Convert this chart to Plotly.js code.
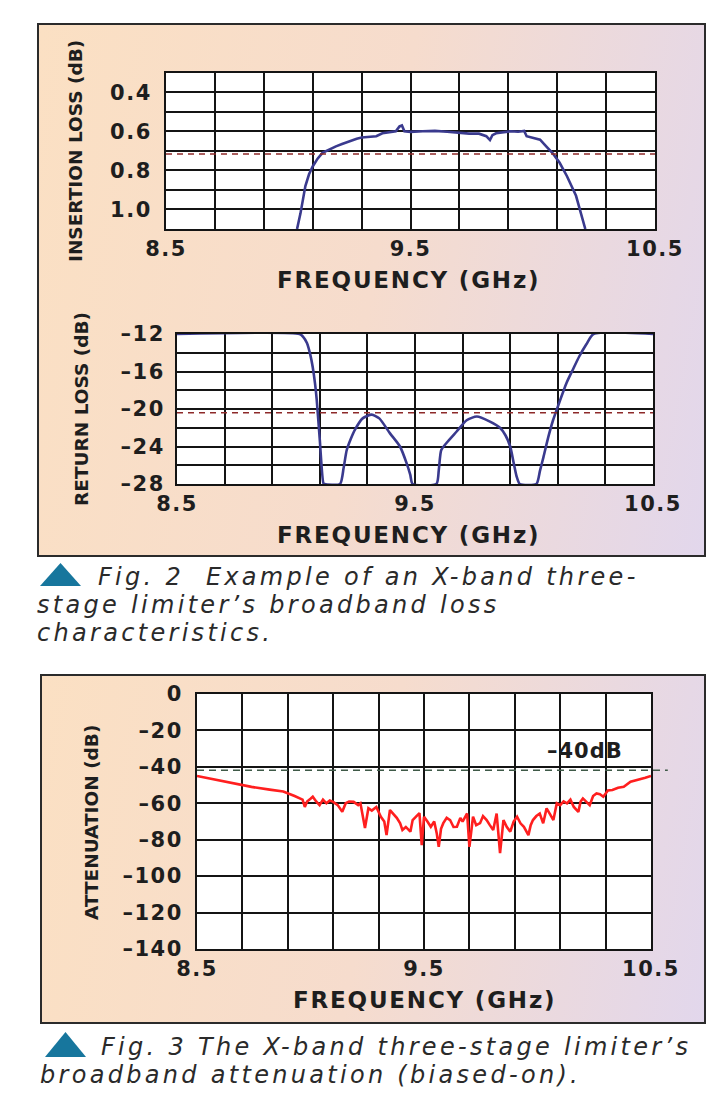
<!DOCTYPE html>
<html>
<head>
<meta charset="utf-8">
<script src="https://cdn.plot.ly/plotly-3.0.1.min.js"></script>
<style>
  html, body { margin: 0; padding: 0; background: #ffffff; }
  #wrap { position: relative; width: 725px; height: 1095px; overflow: hidden; }
  .panel { position: absolute; box-sizing: border-box; border: 2px solid #2b2b2b;
           background: linear-gradient(100deg, #fbe0c3 0%, #f6dccd 50%, #e2d7ec 100%); }
  #chart { position: absolute; left: 0; top: 0; width: 725px; height: 1095px; }
</style>
</head>
<body>
<div id="wrap">
  <div class="panel" style="left:37px; top:23px; width:669px; height:534px;"></div>
  <div class="panel" style="left:40px; top:674px; width:666px; height:350px;"></div>
  <div id="chart"></div>
</div>
<script>
// ---------- data ----------
const freqTickVals = [8.5, 8.7, 8.9, 9.1, 9.3, 9.5, 9.7, 9.9, 10.1, 10.3, 10.5];
const freqTickText = ["8.5", "", "", "", "", "9.5", "", "", "", "", "10.5"];

// Insertion loss (dB) vs frequency (GHz)
const ilFreq = [9.036, 9.05, 9.07, 9.085, 9.10, 9.12, 9.14, 9.17, 9.195, 9.22, 9.25, 9.28, 9.30, 9.33, 9.36,
  9.385, 9.41, 9.44, 9.455, 9.465, 9.475, 9.50, 9.55, 9.60, 9.65, 9.70, 9.74, 9.78, 9.81, 9.825, 9.835,
  9.85, 9.88, 9.91, 9.94, 9.965, 9.975, 9.99, 10.03, 10.055, 10.08, 10.11, 10.14, 10.177, 10.21, 10.215];
const ilVal = [1.10, 1.02, 0.88, 0.82, 0.78, 0.74, 0.71, 0.69, 0.677, 0.665, 0.65, 0.638, 0.632, 0.628, 0.625,
  0.61, 0.605, 0.60, 0.575, 0.57, 0.60, 0.603, 0.60, 0.598, 0.602, 0.607, 0.612, 0.612, 0.625, 0.645, 0.62,
  0.61, 0.605, 0.60, 0.602, 0.598, 0.625, 0.63, 0.643, 0.677, 0.71, 0.761, 0.83, 0.93, 1.085, 1.10];
const ilTickVals = [0.3, 0.4, 0.5, 0.6, 0.7, 0.8, 0.9, 1.0, 1.1];
const ilTickText = ["", "0.4", "", "0.6", "", "0.8", "", "1.0", ""];
const ilRef = 0.716;

// Return loss (dB) vs frequency (GHz)
const rlFreq = [8.5, 9.015, 9.03, 9.046, 9.06, 9.07, 9.08, 9.087, 9.10, 9.115, 9.12, 9.185, 9.20, 9.213, 9.23,
  9.248, 9.28, 9.318, 9.35, 9.395, 9.437, 9.465, 9.48, 9.49, 9.59, 9.60, 9.61, 9.633, 9.675, 9.717, 9.76,
  9.815, 9.857, 9.88, 9.90, 9.915, 9.927, 9.94, 10.01, 10.025, 10.04, 10.06, 10.08, 10.10, 10.137, 10.165,
  10.19, 10.22, 10.25, 10.5];
const rlVal = [-12, -12, -12.3, -12.96, -14.2, -15.5, -17.3, -19.0, -23.3, -27.9, -28, -28, -26.3, -24.4, -23.2,
  -22.2, -21.0, -20.6, -21.0, -22.6, -24.0, -25.8, -27.0, -28, -28, -26.5, -24.4, -23.6, -22.4, -21.2, -20.8,
  -21.35, -22.0, -22.8, -24.0, -25.8, -27.2, -28, -28, -26.6, -25.1, -23.0, -21.2, -19.75, -17.2, -15.7,
  -14.4, -13.1, -12, -12];
const rlTickVals = [-28, -26, -24, -22, -20, -18, -16, -14, -12];
const rlTickText = ["\u201328", "", "\u201324", "", "\u201320", "", "\u201316", "", "\u201312"];
const rlRef = -20.4;

// Attenuation (dB) vs frequency (GHz)
const atFreq = [8.50, 8.58, 8.66, 8.74, 8.82, 8.88, 8.93, 8.965, 8.975, 8.985, 9.00, 9.01, 9.025, 9.04, 9.055,
  9.07, 9.085, 9.10, 9.12, 9.14, 9.155, 9.17, 9.19, 9.21, 9.22, 9.24, 9.255, 9.27, 9.29, 9.31, 9.325, 9.335, 9.35,
  9.365, 9.38, 9.395, 9.405, 9.42, 9.44, 9.45, 9.465, 9.48, 9.49, 9.50, 9.515, 9.53, 9.545, 9.556, 9.565,
  9.575, 9.585, 9.60, 9.615, 9.63, 9.645, 9.66, 9.67, 9.69, 9.70, 9.716, 9.73, 9.747, 9.76, 9.776, 9.79,
  9.805, 9.82, 9.835, 9.85, 9.865, 9.88, 9.895, 9.91, 9.925, 9.94, 9.96, 9.97, 9.98, 9.995, 10.01, 10.025,
  10.04, 10.055, 10.07, 10.085, 10.10, 10.115, 10.13, 10.145, 10.16, 10.18, 10.19, 10.20, 10.215, 10.23,
  10.245, 10.26, 10.275, 10.29, 10.31, 10.33, 10.355, 10.38, 10.41, 10.45, 10.475, 10.50];
const atVal = [-45, -47, -49, -51, -52.5, -53.5, -56, -58, -62, -59, -57.5, -56.4, -59, -61, -58,
  -60, -58.5, -59.2, -61, -64.7, -60, -59, -59.2, -61, -60, -73.6, -62.7, -64, -62, -67.4, -70, -77.5, -63.7,
  -66, -68, -71, -74.7, -73, -75.6, -69.2, -67, -65.4, -83, -67.4, -70, -72.9, -70, -76.4, -83.9,
  -74, -70.9, -68, -69.2, -73, -72.9, -68, -70.1, -65.6, -83.9, -67.4, -72, -70.9, -67, -69.2, -72,
  -74.7, -65.6, -87.4, -69.2, -73, -75.6, -70, -67.4, -71, -72.9, -77.5, -72, -69.2, -67, -65.6, -71,
  -62.8, -66, -69.2, -60, -61, -59, -60, -58, -62, -64.7, -59, -57.3, -59, -61,
  -56, -54.6, -55, -56.4, -53, -52.7, -51.5, -51, -48.2, -47, -46, -45];
const atTickVals = [-140, -120, -100, -80, -60, -40, -20, 0];
const atTickText = ["\u2013140", "\u2013120", "\u2013100", "\u201380", "\u201360", "\u201340", "\u201320", "0"];
const atRef = -41.8;

const axisTitleX = "FREQUENCY (GHz)";
const ilTitle = "INSERTION LOSS (dB)";
const rlTitle = "RETURN LOSS (dB)";
const atTitle = "ATTENUATION (dB)";
const refLabel = "\u201340dB";
const cap2 = ["Fig. 2  Example of an X-band three-", "stage limiter\u2019s broadband loss", "characteristics."];
const cap3 = ["Fig. 3 The X-band three-stage limiter\u2019s", "broadband attenuation (biased-on)."];

// ---------- layout helpers ----------
const W = 725, H = 1095;
const px = v => v / W;
const py = v => 1 - v / H;
const spaced = (t, ls) => (t === "" ? "" : '<span style="letter-spacing:' + ls + 'px">' + t + '</span>');

const tickFont = { family: "DejaVu Sans", size: 21, color: "#1e1e1e", weight: 700 };
const gridCol = "#141414";

function xAx(domain, anchor) {
  return {
    domain: domain, anchor: anchor, range: [8.5, 10.5], tickmode: "array",
    tickvals: freqTickVals, ticktext: freqTickText.map(t => spaced(t, 1.5)), showgrid: true, gridcolor: gridCol, gridwidth: 2,
    showline: true, mirror: true, linecolor: gridCol, linewidth: 2, ticks: "", zeroline: false,
    tickfont: tickFont, ticklabelstandoff: 0, fixedrange: true
  };
}
function yAx(domain, anchor, range, tv, tt, standoff) {
  return {
    domain: domain, anchor: anchor, range: range, tickmode: "array",
    tickvals: tv, ticktext: tt.map(t => spaced(t, 1.5)), showgrid: true, gridcolor: gridCol, gridwidth: 2,
    showline: true, mirror: true, linecolor: gridCol, linewidth: 2, ticks: "", zeroline: false,
    tickfont: tickFont, ticklabelstandoff: standoff, fixedrange: true
  };
}

const traces = [
  { x: ilFreq, y: ilVal, xaxis: "x", yaxis: "y", mode: "lines", line: { color: "#3a3a8e", width: 2.6 },
    showlegend: false, hoverinfo: "skip" },
  { x: rlFreq, y: rlVal, xaxis: "x2", yaxis: "y2", mode: "lines", line: { color: "#3a3a8e", width: 2.6, shape: "spline", smoothing: 0.6 },
    showlegend: false, hoverinfo: "skip" },
  { x: atFreq, y: atVal, xaxis: "x3", yaxis: "y3", mode: "lines", line: { color: "#ff1f1f", width: 2.6 },
    showlegend: false, hoverinfo: "skip" }
];

const titleFontV = { family: "DejaVu Sans", size: 18.5, color: "#1e1e1e", weight: 700 };
const titleFontH = { family: "DejaVu Sans", size: 23, color: "#1e1e1e", weight: 700 };
const capFont = { family: "DejaVu Sans", size: 24, color: "#2a2a2a" };

function capText(t) { return "<i>" + spaced(t, 3.3) + "</i>"; }

const annotations = [
  { text: spaced(axisTitleX, 1.8), xref: "paper", yref: "paper", x: px(408), y: py(280), xanchor: "center", yanchor: "middle", showarrow: false, font: titleFontH },
  { text: spaced(axisTitleX, 1.8), xref: "paper", yref: "paper", x: px(408), y: py(535), xanchor: "center", yanchor: "middle", showarrow: false, font: titleFontH },
  { text: spaced(axisTitleX, 1.8), xref: "paper", yref: "paper", x: px(424), y: py(1000), xanchor: "center", yanchor: "middle", showarrow: false, font: titleFontH },
  { text: ilTitle, xref: "paper", yref: "paper", x: px(75), y: py(151), xanchor: "center", yanchor: "middle", textangle: -90, showarrow: false, font: titleFontV },
  { text: rlTitle, xref: "paper", yref: "paper", x: px(81), y: py(409), xanchor: "center", yanchor: "middle", textangle: -90, showarrow: false, font: titleFontV },
  { text: atTitle, xref: "paper", yref: "paper", x: px(92), y: py(823), xanchor: "center", yanchor: "middle", textangle: -90, showarrow: false, font: titleFontV },
  { text: spaced(refLabel, 1), xref: "paper", yref: "paper", x: px(545), y: py(751), xanchor: "left", yanchor: "middle", showarrow: false,
    font: { family: "DejaVu Sans", size: 21, color: "#1e1e1e", weight: 700 } },
  { text: capText(cap2[0]), xref: "paper", yref: "paper", x: px(96), y: py(577), xanchor: "left", yanchor: "middle", showarrow: false, font: capFont },
  { text: capText(cap2[1]), xref: "paper", yref: "paper", x: px(35), y: py(605), xanchor: "left", yanchor: "middle", showarrow: false, font: capFont },
  { text: capText(cap2[2]), xref: "paper", yref: "paper", x: px(35), y: py(633), xanchor: "left", yanchor: "middle", showarrow: false, font: capFont },
  { text: capText(cap3[0]), xref: "paper", yref: "paper", x: px(99), y: py(1047), xanchor: "left", yanchor: "middle", showarrow: false, font: capFont },
  { text: capText(cap3[1]), xref: "paper", yref: "paper", x: px(38), y: py(1075), xanchor: "left", yanchor: "middle", showarrow: false, font: capFont }
];

function tri(x0, x1, yTop, yBot) {
  const xm = (x0 + x1) / 2;
  return "M " + px(x0) + " " + py(yBot) + " L " + px(xm) + " " + py(yTop) + " L " + px(x1) + " " + py(yBot) + " Z";
}

const shapes = [
  { type: "line", xref: "x domain", yref: "y", x0: 0, x1: 1, y0: ilRef, y1: ilRef,
    line: { color: "#8e2a2a", width: 1.6, dash: "6px,5px" } },
  { type: "line", xref: "x2 domain", yref: "y2", x0: 0, x1: 1, y0: rlRef, y1: rlRef,
    line: { color: "#8e2a2a", width: 1.6, dash: "6px,5px" } },
  { type: "line", xref: "x3 domain", yref: "y3", x0: 0, x1: 1.037, y0: atRef, y1: atRef,
    line: { color: "#3f5a48", width: 1.5, dash: "7px,5px" } },
  { type: "path", xref: "paper", yref: "paper", path: tri(40, 81, 563, 586), fillcolor: "#17769d", line: { width: 0 } },
  { type: "path", xref: "paper", yref: "paper", path: tri(45, 86, 1032, 1057), fillcolor: "#17769d", line: { width: 0 } }
];

const layout = {
  width: W, height: H, margin: { l: 0, r: 0, t: 0, b: 0 },
  paper_bgcolor: "rgba(0,0,0,0)", plot_bgcolor: "#ffffff", showlegend: false,
  xaxis: xAx([px(166), px(655)], "y"),
  yaxis: yAx([py(229), py(72.7)], "x", [1.1, 0.3], ilTickVals, ilTickText, 8),
  xaxis2: xAx([px(177), px(653)], "y2"),
  yaxis2: yAx([py(484), py(334)], "x2", [-28, -12], rlTickVals, rlTickText, 6),
  xaxis3: xAx([px(197), px(651)], "y3"),
  yaxis3: yAx([py(949), py(694)], "x3", [-140, 0], atTickVals, atTickText, 8),
  annotations: annotations, shapes: shapes
};

Plotly.newPlot("chart", traces, layout, { displayModeBar: false, staticPlot: true });
</script>
</body>
</html>
